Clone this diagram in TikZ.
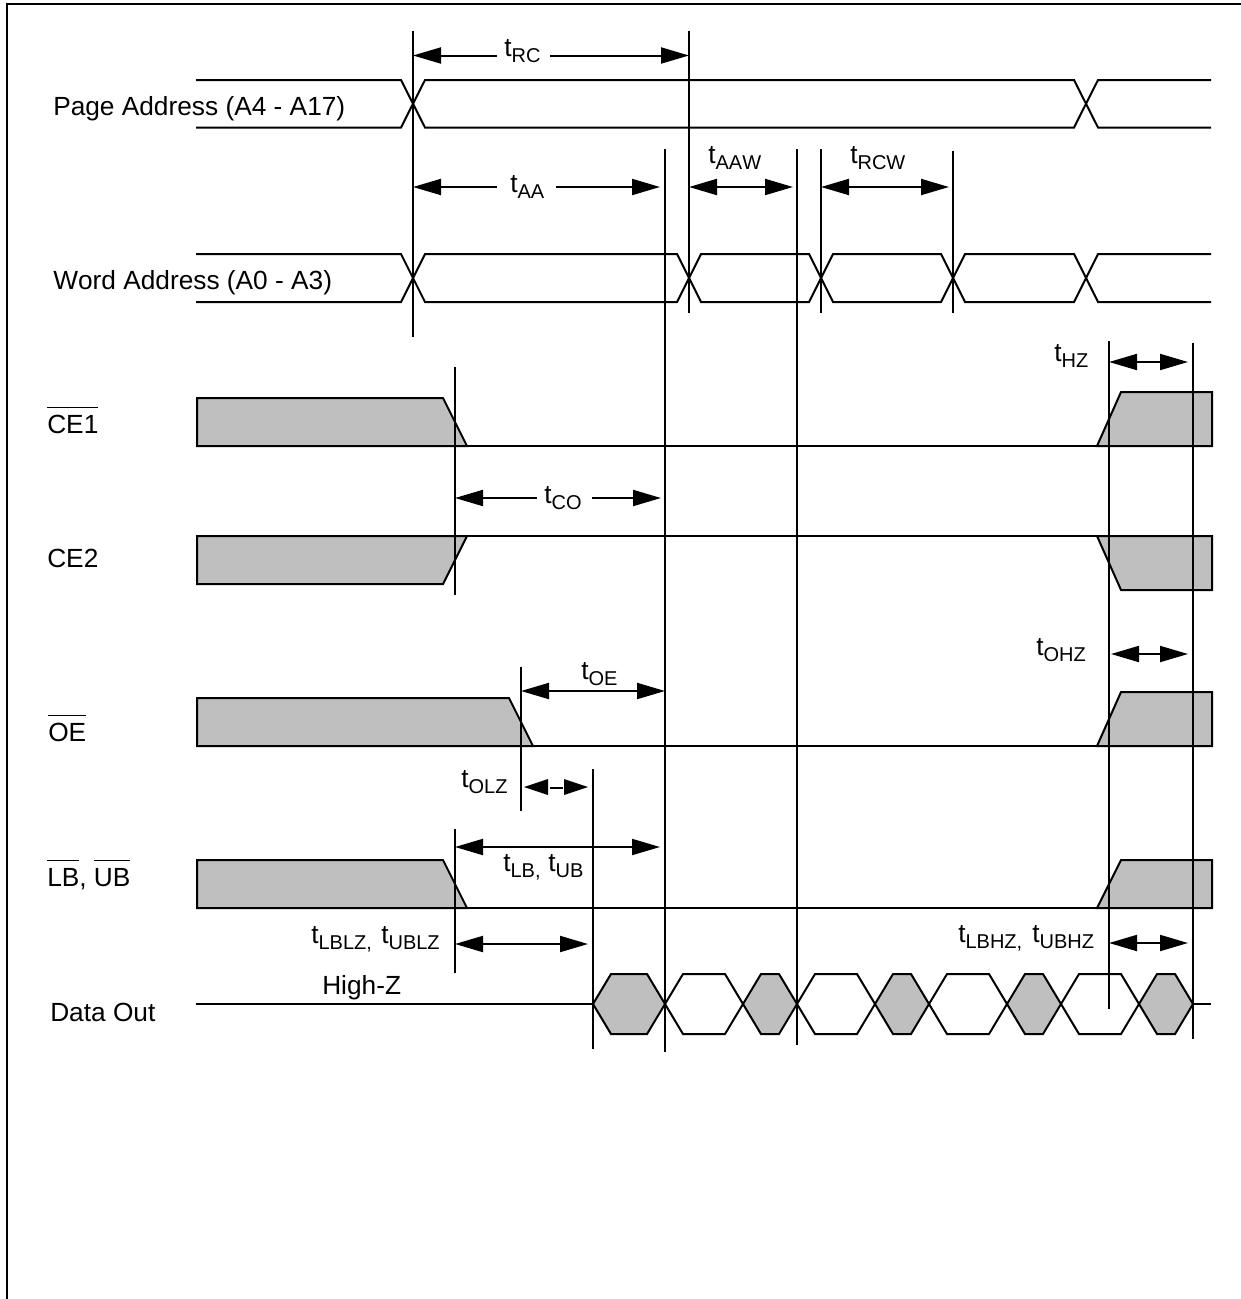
\documentclass[tikz,border=0pt]{standalone}
\usepackage{fontspec}
\setmainfont[Kerning=Off]{Liberation Sans}
\usetikzlibrary{arrows.meta}

\newcommand{\tsub}[1]{t\raisebox{-4.5pt}{\fontsize{15}{18}\selectfont #1}}
\newcommand{\barred}[1]{\setbox0\hbox{#1}\rlap{\rule[18.6pt]{\wd0}{0.9pt}}\box0}

\tikzset{
  wave/.style={line width=1.5},
  grayfill/.style={line width=1.5,fill={rgb, 255:red, 191; green, 191; blue, 191 },line join=miter},
  marker/.style={line width=1.5},
  bothheads/.style={line width=1.5,{Triangle[length=21pt,width=12pt]}-{Triangle[length=21pt,width=12pt]}},
  lefthead/.style={line width=1.5,{Triangle[length=21pt,width=12pt]}-},
  righthead/.style={line width=1.5,-{Triangle[length=21pt,width=12pt]}},
  lbl/.style={anchor=base west,inner sep=0pt,font=\fontsize{19.7}{24}\selectfont},
}

\begin{document}
\begin{tikzpicture}[x=0.75pt,y=0.75pt,yscale=-1,xscale=1]
\useasboundingbox (0,0) rectangle (1241,1299);

%Frame
\draw [line width=1.5] (6.5,1299) -- (6.5,4) -- (1241,4) ;

%Page Address
\draw [wave] (196,80) -- (401,80) -- (425,127.5) -- (1074,127.5) -- (1098,80) -- (1211,80) ;
\draw [wave] (196,127.5) -- (401,127.5) -- (425,80) -- (1074,80) -- (1098,127.5) -- (1211,127.5) ;

%Word Address
\draw [wave] (196,254) -- (401,254) -- (425,302) -- (677,302) -- (701,254) -- (809,254) -- (833,302) -- (941,302) -- (965,254) -- (1074,254) -- (1098,302) -- (1211,302) ;
\draw [wave] (196,302) -- (401,302) -- (425,254) -- (677,254) -- (701,302) -- (809,302) -- (833,254) -- (941,254) -- (965,302) -- (1074,302) -- (1098,254) -- (1211,254) ;

%CE1
\draw [grayfill] (197,398) -- (443,398) -- (467,446) -- (197,446) -- cycle ;
\draw [grayfill] (1097,446) -- (1121,392) -- (1212,392) -- (1212,446) -- cycle ;
\draw [wave] (467,446) -- (1097,446) ;

%CE2
\draw [grayfill] (197,536) -- (467,536) -- (443,584) -- (197,584) -- cycle ;
\draw [grayfill] (1097,536) -- (1121,590) -- (1212,590) -- (1212,536) -- cycle ;
\draw [wave] (467,536) -- (1097,536) ;

%OE
\draw [grayfill] (197,698) -- (509,698) -- (533,746) -- (197,746) -- cycle ;
\draw [grayfill] (1097,746) -- (1121,692) -- (1212,692) -- (1212,746) -- cycle ;
\draw [wave] (533,746) -- (1097,746) ;

%LB, UB
\draw [grayfill] (197,860) -- (443,860) -- (467,908) -- (197,908) -- cycle ;
\draw [grayfill] (1097,908) -- (1121,860) -- (1212,860) -- (1212,908) -- cycle ;
\draw [wave] (467,908) -- (1097,908) ;

%Data Out
\draw [wave] (196,1004) -- (593,1004) ;
\draw [grayfill] (593,1004) -- (611,974) -- (647,974) -- (665,1004) -- (647,1034) -- (611,1034) -- cycle ;
\draw [wave] (665,1004) -- (683,974) -- (725,974) -- (743,1004) -- (725,1034) -- (683,1034) -- cycle ;
\draw [grayfill] (743,1004) -- (761,974) -- (779,974) -- (797,1004) -- (779,1034) -- (761,1034) -- cycle ;
\draw [wave] (797,1004) -- (815,974) -- (857,974) -- (875,1004) -- (857,1034) -- (815,1034) -- cycle ;
\draw [grayfill] (875,1004) -- (893,974) -- (911,974) -- (929,1004) -- (911,1034) -- (893,1034) -- cycle ;
\draw [wave] (929,1004) -- (947,974) -- (989,974) -- (1007,1004) -- (989,1034) -- (947,1034) -- cycle ;
\draw [grayfill] (1007,1004) -- (1025,974) -- (1043,974) -- (1061,1004) -- (1043,1034) -- (1025,1034) -- cycle ;
\draw [wave] (1061,1004) -- (1079,974) -- (1121,974) -- (1139,1004) -- (1121,1034) -- (1079,1034) -- cycle ;
\draw [grayfill] (1139,1004) -- (1157,974) -- (1175,974) -- (1193,1004) -- (1175,1034) -- (1157,1034) -- cycle ;
\draw [wave] (1193,1004) -- (1211,1004) ;

%Straight Lines
\draw [marker] (413,31) -- (413,337) ;
\draw [marker] (689,31) -- (689,313) ;
\draw [marker] (665,149) -- (665,1052) ;
\draw [marker] (797,149) -- (797,1045) ;
\draw [marker] (821,149) -- (821,313) ;
\draw [marker] (953,151) -- (953,313) ;
\draw [marker] (455,367) -- (455,595) ;
\draw [marker] (521,667) -- (521,811) ;
\draw [marker] (593,769) -- (593,1049) ;
\draw [marker] (455,829) -- (455,973) ;
\draw [marker] (1109,341) -- (1109,1009) ;
\draw [marker] (1193,343) -- (1193,1039) ;

%Arrows
\draw [lefthead] (413,55.5) -- (497,55.5) ;
\draw [righthead] (550,55.5) -- (689,55.5) ;
\draw [lefthead] (413,187) -- (497,187) ;
\draw [righthead] (556,187) -- (660,187) ;
\draw [bothheads] (689,187) -- (793,187) ;
\draw [bothheads] (821,187) -- (949,187) ;
\draw [bothheads] (1109,362) -- (1188,362) ;
\draw [lefthead] (455,498) -- (537,498) ;
\draw [righthead] (592,498) -- (661,498) ;
\draw [bothheads] (1111,654) -- (1188,654) ;
\draw [bothheads] (521,691) -- (665,691) ;
\fill (524,787) -- (548,779) -- (548,795) -- cycle ;
\draw [wave] (550,787.5) -- (563,787.5) ;
\fill (588,787) -- (564,779) -- (564,795) -- cycle ;
\draw [bothheads] (455,847) -- (660,847) ;
\draw [bothheads] (455,944) -- (588,944) ;
\draw [bothheads] (1109,943) -- (1188,943) ;

% Text Node
\node (pageaddr) [lbl] at (53,115) {Page Address (A4 - A17)};
\node (wordaddr) [lbl] at (53,289) {Word Address (A0 - A3)};
\node (ceone) [lbl] at (47,433) {\barred{CE1}};
\node (cetwo) [lbl] at (47,567) {CE2};
\node (oe) [lbl] at (48,741) {\barred{OE}};
\node (lbub) [lbl] at (47,886) {\barred{LB}, \barred{UB}};
\node (dataout) [lbl] at (50,1021) {Data Out};
\node (highz) [lbl] at (322,994) {High-Z};
\node (trc) [lbl] at (504,56) {\tsub{RC}};
\node (taa) [lbl] at (510,192) {\tsub{AA}};
\node (taaw) [lbl] at (708,163) {\tsub{AAW}};
\node (trcw) [lbl] at (850,163) {\tsub{RCW}};
\node (thz) [lbl] at (1054,361) {\tsub{HZ}};
\node (tco) [lbl] at (544,503) {\tsub{CO}};
\node (tohz) [lbl] at (1036,655) {\tsub{OHZ}};
\node (toe) [lbl] at (581,679) {\tsub{OE}};
\node (tolz) [lbl] at (461,787) {\tsub{OLZ}};
\node (tlb) [lbl] at (503,871) {\tsub{LB,}};
\node (tub) [lbl] at (548,871) {\tsub{UB}};
\node (tlblz) [lbl] at (311,943) {\tsub{LBLZ,}};
\node (tublz) [lbl] at (381,943) {\tsub{UBLZ}};
\node (tlbhz) [lbl] at (958,942) {\tsub{LBHZ,}};
\node (tubhz) [lbl] at (1032,942) {\tsub{UBHZ}};

\end{tikzpicture}
\end{document}
